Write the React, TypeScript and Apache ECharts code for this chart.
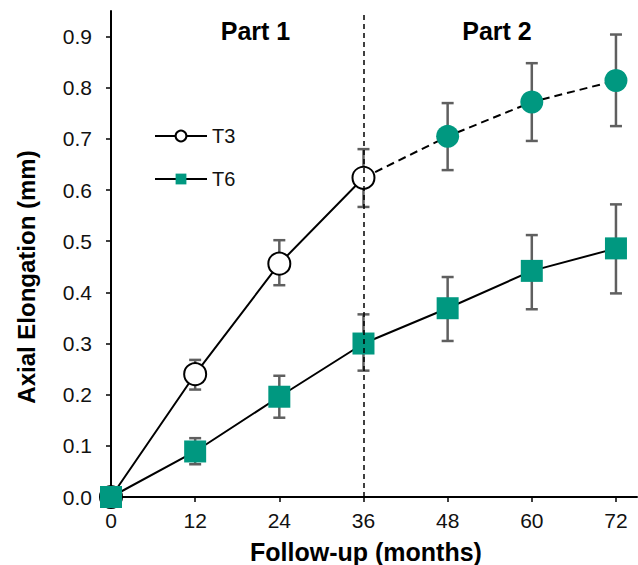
import React, { useEffect, useRef } from "react";
import * as echarts from "echarts";

const months = [0, 12, 24, 36, 48, 60, 72];
const yTicks = [0.0, 0.1, 0.2, 0.3, 0.4, 0.5, 0.6, 0.7, 0.8, 0.9];

const t3Mean = [0, 0.240, 0.456, 0.624, 0.705, 0.772, 0.814];
const t3Low = [0, 0.210, 0.414, 0.567, 0.639, 0.696, 0.725];
const t3High = [0, 0.268, 0.502, 0.680, 0.770, 0.848, 0.904];

const t6Mean = [0, 0.089, 0.196, 0.300, 0.369, 0.442, 0.486];
const t6Low = [0, 0.064, 0.155, 0.247, 0.305, 0.367, 0.398];
const t6High = [0, 0.115, 0.237, 0.357, 0.430, 0.512, 0.572];

const partBoundary = 36;
const partLabels = ["Part 1", "Part 2"];

const TEAL = "#009880";
const FONT = "Arial, 'Liberation Sans', sans-serif";

export default function App() {
  const ref = useRef<HTMLDivElement>(null);

  useEffect(() => {
    if (!ref.current) return;
    document.body.style.margin = "0";
    const chart = echarts.init(ref.current, null, { renderer: "svg" });

    const splitIdx = months.indexOf(partBoundary);
    const t3Part1 = months.slice(0, splitIdx + 1).map((m, i) => [m, t3Mean[i]]);
    const t3Part2 = months.slice(splitIdx).map((m, k) => {
      const i = k + splitIdx;
      if (k === 0) return { value: [m, t3Mean[i]], symbol: "none" };
      return { value: [m, t3Mean[i]] };
    });
    const t6Data = months.map((m, i) => [m, t6Mean[i]]);

    const errData: number[][] = [];
    months.forEach((m, i) => {
      if (t3High[i] > t3Low[i]) errData.push([m, t3Low[i], t3High[i]]);
      if (t6High[i] > t6Low[i]) errData.push([m, t6Low[i], t6High[i]]);
    });

    const option: any = {
      animation: false,
      grid: { left: 111, right: 1, top: 11, bottom: 68 },
      xAxis: {
        type: "value",
        min: 0,
        max: 75,
        interval: 12,
        axisLine: { show: true, onZero: false, lineStyle: { color: "#000", width: 2 } },
        axisTick: { show: true, length: 5, lineStyle: { color: "#000", width: 1.5 }, customValues: months },
        axisLabel: { fontSize: 21, color: "#111", fontFamily: FONT, margin: 13, customValues: months },
        splitLine: { show: false },
      },
      yAxis: {
        type: "value",
        min: 0,
        max: 0.95,
        interval: 0.1,
        axisLine: { show: true, onZero: false, lineStyle: { color: "#000", width: 2 } },
        axisTick: { show: true, length: 5, lineStyle: { color: "#000", width: 1.5 }, customValues: yTicks },
        axisLabel: {
          fontSize: 21,
          color: "#111",
          fontFamily: FONT,
          margin: 19,
          customValues: yTicks,
          formatter: (v: number) => v.toFixed(1),
        },
        splitLine: { show: false },
      },
      legend: {
        data: ["T3", "T6"],
        orient: "vertical",
        left: 149,
        top: 121,
        itemWidth: 52,
        itemHeight: 13.5,
        itemGap: 23,
        textStyle: { fontSize: 20, color: "#111", fontFamily: FONT, padding: [0, 0, 0, 0] },
        selectedMode: false,
      },
      graphic: [
        {
          type: "text",
          x: 26,
          y: 277,
          rotation: Math.PI / 2,
          style: {
            text: "Axial Elongation (mm)",
            font: `bold 24px ${FONT}`,
            fill: "#000",
            align: "center",
            verticalAlign: "middle",
          },
        },
        {
          type: "text",
          x: 366,
          y: 552,
          style: {
            text: "Follow-up (months)",
            font: `bold 25px ${FONT}`,
            fill: "#000",
            align: "center",
            verticalAlign: "middle",
          },
        },
        {
          type: "text",
          x: 255.5,
          y: 31,
          style: {
            text: partLabels[0],
            font: `bold 25px ${FONT}`,
            fill: "#000",
            align: "center",
            verticalAlign: "middle",
          },
        },
        {
          type: "text",
          x: 497,
          y: 31,
          style: {
            text: partLabels[1],
            font: `bold 25px ${FONT}`,
            fill: "#000",
            align: "center",
            verticalAlign: "middle",
          },
        },
      ],
      series: [
        {
          name: "errors",
          type: "custom",
          z: 1,
          clip: false,
          silent: true,
          encode: { x: 0, y: [1, 2] },
          data: errData,
          renderItem: (params: any, api: any) => {
            const x = api.value(0);
            const lo = api.coord([x, api.value(1)]);
            const hi = api.coord([x, api.value(2)]);
            const hw = 6;
            const style = { stroke: "#5f5f5f", lineWidth: 2.5 };
            return {
              type: "group",
              children: [
                { type: "line", shape: { x1: lo[0], y1: lo[1], x2: hi[0], y2: hi[1] }, style },
                { type: "line", shape: { x1: lo[0] - hw, y1: lo[1], x2: lo[0] + hw, y2: lo[1] }, style },
                { type: "line", shape: { x1: hi[0] - hw, y1: hi[1], x2: hi[0] + hw, y2: hi[1] }, style },
              ],
            };
          },
        },
        {
          name: "T3 (Part 2)",
          type: "line",
          z: 2,
          clip: false,
          data: t3Part2,
          symbol: "circle",
          symbolSize: 23,
          itemStyle: { color: TEAL, borderWidth: 0 },
          lineStyle: { color: "#000", width: 2, type: [8, 5] },
        },
        {
          name: "T3",
          type: "line",
          z: 2,
          clip: false,
          data: t3Part1,
          symbol: "circle",
          symbolSize: 22,
          itemStyle: { color: "#fff", borderColor: "#000", borderWidth: 2 },
          lineStyle: { color: "#000", width: 2 },
        },
        {
          name: "T6",
          type: "line",
          z: 2,
          clip: false,
          data: t6Data,
          symbol: "rect",
          symbolSize: 22,
          itemStyle: { color: TEAL, borderWidth: 0 },
          lineStyle: { color: "#000", width: 2 },
        },
        {
          name: "divider",
          type: "line",
          z: 3,
          data: [],
          silent: true,
          markLine: {
            silent: true,
            symbol: "none",
            label: { show: false },
            lineStyle: { color: "#000", width: 1.5, type: [5, 4] },
            data: [{ xAxis: partBoundary }],
          },
        },
      ],
    };

    chart.setOption(option);
    return () => chart.dispose();
  }, []);

  return <div ref={ref} style={{ width: 638, height: 565 }} />;
}
